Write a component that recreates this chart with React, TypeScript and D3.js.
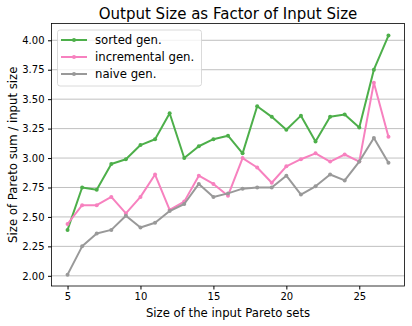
import React, { useEffect, useRef } from 'react';
import * as d3 from 'd3';

const inputSizes = [5, 6, 7, 8, 9, 10, 11, 12, 13, 14, 15, 16, 17, 18, 19, 20, 21, 22, 23, 24, 25, 26, 27];
const sortedGen = [2.39, 2.75, 2.73, 2.95, 2.99, 3.11, 3.16, 3.38, 3.0, 3.1, 3.16, 3.19, 3.04, 3.44, 3.35, 3.24, 3.36, 3.14, 3.35, 3.37, 3.26, 3.75, 4.04];
const incrementalGen = [2.44, 2.6, 2.6, 2.67, 2.53, 2.67, 2.86, 2.56, 2.63, 2.85, 2.78, 2.68, 3.0, 2.92, 2.79, 2.93, 2.99, 3.04, 2.97, 3.03, 2.97, 3.64, 3.18];
const naiveGen = [2.01, 2.25, 2.36, 2.39, 2.51, 2.41, 2.45, 2.55, 2.61, 2.78, 2.67, 2.7, 2.74, 2.75, 2.75, 2.85, 2.69, 2.76, 2.86, 2.81, 2.97, 3.17, 2.96];
const seriesNames = ['sorted gen.', 'incremental gen.', 'naive gen.'];
const seriesColors = ['#4daf4a', '#f781bf', '#999999'];
const yTicks = [2.0, 2.25, 2.5, 2.75, 3.0, 3.25, 3.5, 3.75, 4.0];
const xTicks = [5, 10, 15, 20, 25];

const W = 412, H = 326;
const FONT = 'DejaVu Sans, sans-serif';

const App = () => {
  const svgRef = useRef(null);

  useEffect(() => {
    const svg = d3.select(svgRef.current);
    svg.selectAll('*').remove();

    const left = 51.5, right = 404.5, top = 23.5, bottom = 286;
    const x = d3.scaleLinear().domain([3.9, 28.1]).range([left, right]);
    const y = d3.scaleLinear().domain([1.9135, 4.1425]).range([bottom, top]);

    // grid
    svg.append('g')
      .selectAll('line')
      .data(yTicks)
      .join('line')
      .attr('x1', left).attr('x2', right)
      .attr('y1', d => y(d)).attr('y2', d => y(d))
      .attr('stroke', '#b0b0b0').attr('stroke-width', 0.8);

    // axes
    const yAxis = svg.append('g')
      .attr('transform', `translate(${left},0)`)
      .call(d3.axisLeft(y).tickValues(yTicks).tickFormat(d3.format('.2f')).tickSize(3.5).tickPadding(3.5));
    yAxis.select('.domain').remove();
    yAxis.selectAll('text').attr('font-family', FONT).attr('font-size', 10).attr('fill', '#000');

    const xAxis = svg.append('g')
      .attr('transform', `translate(0,${bottom})`)
      .call(d3.axisBottom(x).tickValues(xTicks).tickSize(3.5).tickPadding(3.5));
    xAxis.select('.domain').remove();
    xAxis.selectAll('text').attr('font-family', FONT).attr('font-size', 10).attr('fill', '#000');

    svg.append('rect')
      .attr('x', left).attr('y', top)
      .attr('width', right - left).attr('height', bottom - top)
      .attr('fill', 'none').attr('stroke', '#000').attr('stroke-width', 0.8);

    // lines
    const allSeries = [sortedGen, incrementalGen, naiveGen];
    const line = d3.line<number>().x((d, i) => x(inputSizes[i])).y(d => y(d));
    allSeries.forEach((vals, k) => {
      const g = svg.append('g');
      g.append('path')
        .attr('d', line(vals))
        .attr('fill', 'none')
        .attr('stroke', seriesColors[k])
        .attr('stroke-width', 2)
        .attr('stroke-linejoin', 'round');
      g.selectAll('circle')
        .data(vals)
        .join('circle')
        .attr('cx', (d, i) => x(inputSizes[i]))
        .attr('cy', d => y(d))
        .attr('r', 2)
        .attr('fill', seriesColors[k]);
    });

    // titles
    svg.append('text')
      .text('Output Size as Factor of Input Size')
      .attr('x', (left + right) / 2).attr('y', 18.5)
      .attr('text-anchor', 'middle')
      .attr('font-family', FONT).attr('font-size', 15);
    svg.append('text')
      .text('Size of the input Pareto sets')
      .attr('x', (left + right) / 2).attr('y', 317)
      .attr('text-anchor', 'middle')
      .attr('font-family', FONT).attr('font-size', 11.7);
    svg.append('text')
      .text('Size of Pareto sum / input size')
      .attr('transform', `translate(17,${(top + bottom) / 2}) rotate(-90)`)
      .attr('text-anchor', 'middle')
      .attr('font-family', FONT).attr('font-size', 11.7);

    // legend
    const lg = svg.append('g');
    lg.append('rect')
      .attr('x', 57.5).attr('y', 30).attr('width', 144).attr('height', 56).attr('rx', 2.5)
      .attr('fill', '#fff').attr('fill-opacity', 0.8)
      .attr('stroke', '#d0d0d0').attr('stroke-width', 0.8);
    seriesNames.forEach((name, k) => {
      const yy = 40 + k * 17;
      lg.append('line')
        .attr('x1', 61).attr('x2', 87).attr('y1', yy).attr('y2', yy)
        .attr('stroke', seriesColors[k]).attr('stroke-width', 2);
      lg.append('circle').attr('cx', 74).attr('cy', yy).attr('r', 2).attr('fill', seriesColors[k]);
      lg.append('text')
        .text(name)
        .attr('x', 95).attr('y', yy).attr('dy', '0.35em')
        .attr('font-family', FONT).attr('font-size', 11.7);
    });
  }, []);

  return (
    <svg ref={svgRef} width={W} height={H} style={{ position: 'absolute', left: 0, top: 0 }}>
    </svg>
  );
};

export default App;
